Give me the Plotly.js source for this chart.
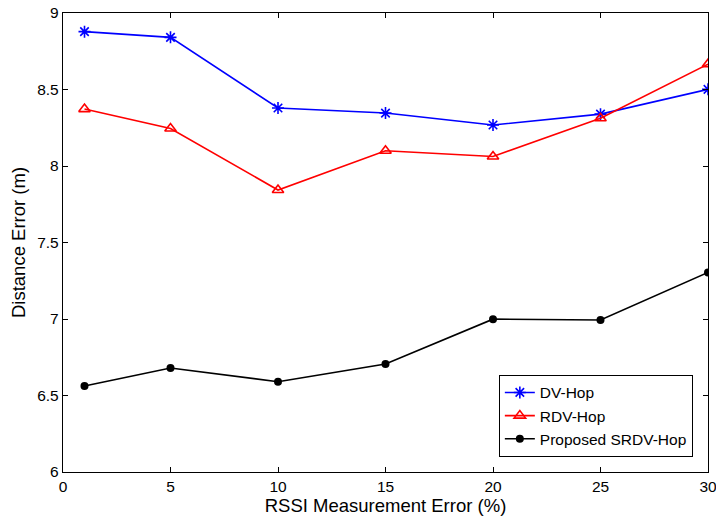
<!DOCTYPE html>
<html><head><meta charset="utf-8">
<script src="https://cdn.plot.ly/plotly-3.0.1.min.js"></script>
<style>body{margin:0;padding:0;background:#fff}#plot{width:716px;height:519px}</style>
</head><body><div id="plot"></div>
<script>
const xVals = [1, 5, 10, 15, 20, 25, 30];
const dvHop = [8.878, 8.841, 8.379, 8.346, 8.268, 8.339, 8.501];
const rdvHop = [8.372, 8.245, 7.843, 8.100, 8.062, 8.312, 8.666];
const srdvHop = [6.562, 6.680, 6.590, 6.706, 6.999, 6.993, 7.304];
const seriesNames = ['DV-Hop', 'RDV-Hop', 'Proposed SRDV-Hop'];
const xTicks = [0, 5, 10, 15, 20, 25, 30];
const yTicks = [6, 6.5, 7, 7.5, 8, 8.5, 9];

const fam = 'Liberation Sans, Arial, sans-serif';
const tickFont = {family: fam, size: 15.5, color: '#000'};
const titleFont = {family: fam, size: 18.5, color: '#000'};
const traces = [
  {x: xVals, y: dvHop, name: seriesNames[0], mode: 'lines+markers',
   line: {color: '#0000ff', width: 1.6},
   marker: {symbol: 'asterisk-open', size: 10, color: '#0000ff', line: {color: '#0000ff', width: 1.6}}},
  {x: xVals, y: rdvHop, name: seriesNames[1], mode: 'lines+markers',
   line: {color: '#ff0000', width: 1.6},
   marker: {symbol: 'triangle-up-open', size: 10, color: '#ff0000', line: {color: '#ff0000', width: 1.6}}},
  {x: xVals, y: srdvHop, name: seriesNames[2], mode: 'lines+markers',
   line: {color: '#000000', width: 1.6},
   marker: {symbol: 'circle', size: 8, color: '#000000'}}
];
const axisCommon = {
  showgrid: false, zeroline: false, showline: true, linecolor: '#000', linewidth: 1.2,
  mirror: 'ticks', ticks: 'inside', ticklen: 5, tickcolor: '#000', tickfont: tickFont,
  ticklabeloverflow: 'allow'
};
const layout = {
  width: 716, height: 519,
  margin: {l: 63, r: 8, t: 13, b: 47},
  paper_bgcolor: '#fff', plot_bgcolor: '#fff',
  font: tickFont,
  showlegend: true,
  legend: {x: 0.9765, y: 0.033, xanchor: 'right', yanchor: 'bottom',
           bgcolor: '#fff', bordercolor: '#000', borderwidth: 1,
           font: {family: fam, size: 15.5, color: '#000'},
           tracegroupgap: 0, itemwidth: 30},
  xaxis: Object.assign({}, axisCommon, {range: [0, 30], tickvals: xTicks, ticktext: xTicks.map(String),
    title: {text: 'RSSI Measurement Error (%)', font: titleFont, standoff: 2}}),
  yaxis: Object.assign({}, axisCommon, {range: [6, 9], tickvals: yTicks, ticktext: yTicks.map(String),
    title: {text: 'Distance Error (m)', font: titleFont, standoff: 6}})
};
Plotly.newPlot('plot', traces, layout, {displayModeBar: false, staticPlot: true});
</script></body></html>
